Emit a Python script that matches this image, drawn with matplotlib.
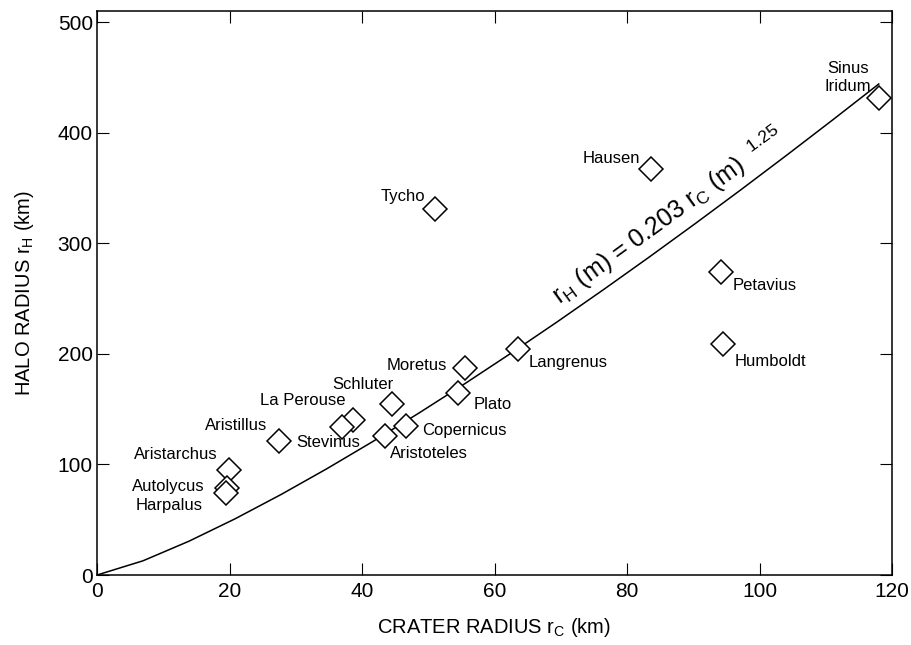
import numpy as np
import matplotlib
matplotlib.use("Agg")
import matplotlib.pyplot as plt

plt.rcParams['font.family'] = ['Liberation Sans', 'DejaVu Sans']
plt.rcParams['mathtext.fontset'] = 'custom'
plt.rcParams['mathtext.rm'] = 'Liberation Sans'
plt.rcParams['mathtext.it'] = 'Liberation Sans'

# crater data: crater radius (km), halo radius (km)
craters = ["Sinus\nIridum", "Hausen", "Tycho", "Petavius", "Humboldt", "Langrenus",
           "Moretus", "Plato", "Schluter", "Copernicus", "Aristoteles", "La Perouse",
           "Stevinus", "Aristillus", "Aristarchus", "Autolycus", "Harpalus"]
crater_r = [118.0, 83.6, 51.0, 94.2, 94.5, 63.5, 55.5, 54.5, 44.5, 46.6, 43.5, 38.6,
            37.0, 27.5, 19.9, 19.6, 19.5]
halo_r = [431, 367, 331, 274, 209, 204, 187, 165, 155, 135, 126, 140,
          134, 121, 95, 79, 74]

# fit r_H(m) = 0.203 r_C(m)^1.25
fit_a = 0.203
fit_b = 1.25
fit_x = np.linspace(0, 118, 18)

# label offsets (points) and alignment
label_pos = {
    "Sinus\nIridum": (-22, 15, 'center'),
    "Hausen": (-8, 8, 'right'),
    "Tycho": (-7, 9, 'right'),
    "Petavius": (8.5, -10, 'left'),
    "Humboldt": (8.5, -13, 'left'),
    "Langrenus": (8, -9.5, 'left'),
    "Moretus": (-13, 2, 'right'),
    "Plato": (11.5, -8.5, 'left'),
    "Schluter": (-21, 14, 'center'),
    "Copernicus": (11.5, -3.5, 'left'),
    "Aristoteles": (3.5, -13, 'left'),
    "La Perouse": (-5, 14, 'right'),
    "Stevinus": (-10, -11.5, 'center'),
    "Aristillus": (-9, 11, 'right'),
    "Aristarchus": (-8, 11, 'right'),
    "Autolycus": (-16, 1, 'right'),
    "Harpalus": (-17, -9, 'right'),
}

fig = plt.figure(figsize=(9.12, 6.45), dpi=100)
ax = fig.add_axes([0.1064, 0.1085, 0.8717, 0.8745])

fit_y = fit_a * (fit_x * 1000) ** fit_b / 1000
ax.plot(fit_x, fit_y, color='black', linewidth=1.1, zorder=2)
ax.plot(crater_r, halo_r, linestyle='none', marker='D', markersize=12,
        markerfacecolor='white', markeredgecolor='black', markeredgewidth=1.1, zorder=3)

for name, xv, yv in zip(craters, crater_r, halo_r):
    dx, dy, ha = label_pos[name]
    ax.annotate(name, xy=(xv, yv), xytext=(dx, dy), textcoords='offset points',
                ha=ha, va='center', fontsize=12, linespacing=1.3,
                multialignment='center')

ax.text(69.8, 244, r"r$_\mathregular{H}$ (m) = 0.203 r$_\mathregular{C}$ (m)  $^\mathregular{1.25}$",
        rotation=36, rotation_mode='anchor', ha='left', va='baseline', fontsize=18)

ax.set_xlim(0, 120)
ax.set_ylim(0, 510)
ax.set_xticks([0, 20, 40, 60, 80, 100, 120])
ax.set_yticks([0, 100, 200, 300, 400, 500])
ax.tick_params(direction='in', length=8.5, width=0.8, labelsize=15,
               top=True, right=True)
ax.tick_params(axis='x', pad=5)
ax.tick_params(axis='y', pad=3)
for sp in ax.spines.values():
    sp.set_linewidth(1.1)

ax.set_xlabel(r"CRATER RADIUS r$_\mathregular{C}$ (km)", fontsize=14.5, labelpad=11)
ax.set_ylabel(r"HALO RADIUS r$_\mathregular{H}$ (km)", fontsize=14.5, labelpad=16)

fig.savefig("out.png", dpi=100)
